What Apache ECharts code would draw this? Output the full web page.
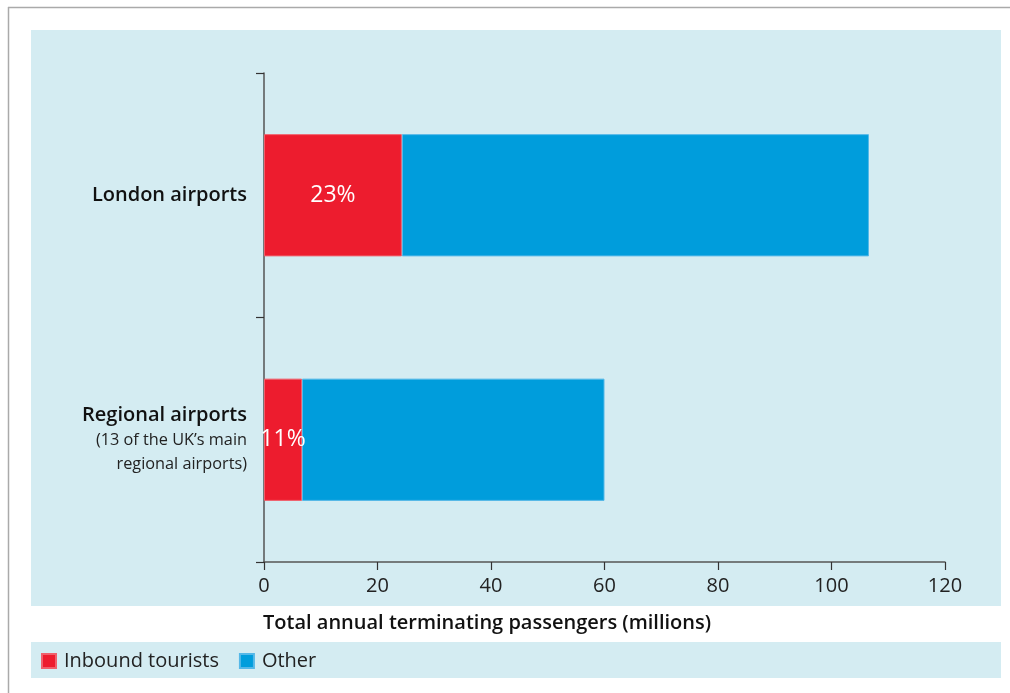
<!DOCTYPE html>
<html>
<head>
<meta charset="utf-8">
<script src="https://cdn.jsdelivr.net/npm/echarts@6/dist/echarts.min.js"></script>
<style>
html,body{margin:0;padding:0;background:#fff;}
#chart{width:1010px;height:693px;}
</style>
</head>
<body>
<div id="chart"></div>
<script>
var categories = ['London airports', 'Regional airports'];
var inbound = [24.3, 6.7];
var other = [82.3, 53.3];
var shareLabels = ['23%', '11%'];
var xTicks = [0, 20, 40, 60, 80, 100, 120];
var seriesNames = ['Inbound tourists', 'Other'];
var axisTitle = 'Total annual terminating passengers (millions)';

var FONT = 'Open Sans';
var chart = echarts.init(document.getElementById('chart'));
chart.setOption({
  animation: false,
  textStyle: { fontFamily: FONT },
  graphic: [
    { type: 'rect', z: -100, shape: { x: 31, y: 30, width: 970, height: 576 }, style: { fill: '#d4ecf2' } },
    { type: 'rect', z: -100, shape: { x: 31, y: 642, width: 970, height: 36 }, style: { fill: '#d4ecf2' } },
    { type: 'line', z: -100, shape: { x1: 8, y1: 7.5, x2: 1010, y2: 7.5 }, style: { stroke: '#aaaaaa', lineWidth: 1.5 } },
    { type: 'line', z: -100, shape: { x1: 8.5, y1: 7, x2: 8.5, y2: 693 }, style: { stroke: '#aaaaaa', lineWidth: 1.5 } }
  ],
  title: {
    text: axisTitle,
    left: 258,
    top: 608,
    textStyle: { fontFamily: FONT, fontSize: 20, fontWeight: 600, color: '#111' }
  },
  legend: {
    left: 36,
    top: 646,
    itemWidth: 14,
    itemHeight: 14,
    itemGap: 20,
    icon: 'rect',
    data: seriesNames,
    textStyle: { fontFamily: FONT, fontSize: 20, color: '#222', padding: [0, 0, 0, 3] }
  },
  grid: { left: 264, right: 65, top: 73, bottom: 131, containLabel: false },
  xAxis: {
    type: 'value',
    min: xTicks[0],
    max: xTicks[xTicks.length - 1],
    interval: 20,
    axisLine: { show: true, lineStyle: { color: '#555', width: 1.5 } },
    axisTick: { show: true, length: 8, lineStyle: { color: '#333', width: 1.2 } },
    splitLine: { show: false },
    axisLabel: { fontFamily: FONT, fontSize: 20, color: '#222', margin: 14 }
  },
  yAxis: {
    type: 'category',
    inverse: true,
    data: categories,
    axisLine: { show: true, lineStyle: { color: '#555', width: 1.5 } },
    axisTick: { show: true, length: 8, lineStyle: { color: '#333', width: 1.2 } },
    axisLabel: {
      margin: 17,
      formatter: function (v) {
        if (v === 'Regional airports') {
          return '{b|Regional airports}\n{s|(13 of the UK\u2019s main}\n{s|regional airports)}';
        }
        return '{b|' + v + '}';
      },
      rich: {
        b: { fontFamily: FONT, fontSize: 20, fontWeight: 600, color: '#111', lineHeight: 25, align: 'right' },
        s: { fontFamily: FONT, fontSize: 16.3, color: '#222', lineHeight: 24, align: 'right' }
      }
    }
  },
  series: [
    {
      name: seriesNames[0],
      type: 'bar',
      stack: 'total',
      barWidth: '50%',
      data: inbound,
      itemStyle: { color: '#ed1c2e', borderColor: '#f0606c', borderWidth: 1 },
      label: {
        show: true,
        position: 'inside',
        color: '#fff',
        fontFamily: FONT,
        fontSize: 23,
        formatter: function (p) { return shareLabels[p.dataIndex]; }
      }
    },
    {
      name: seriesNames[1],
      type: 'bar',
      stack: 'total',
      barWidth: '50%',
      data: other,
      itemStyle: { color: '#009ddc', borderColor: '#55b8e8', borderWidth: 1 }
    }
  ]
});
</script>
</body>
</html>
